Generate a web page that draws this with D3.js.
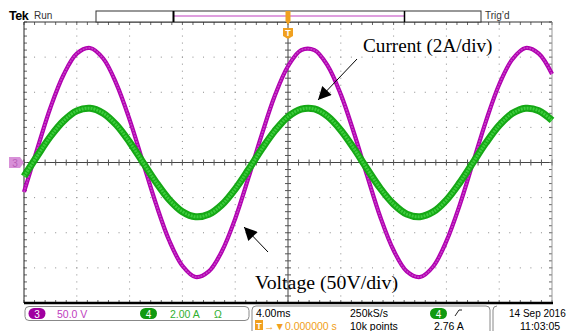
<!DOCTYPE html>
<html>
<head>
<meta charset="utf-8">
<script src="https://cdn.jsdelivr.net/npm/d3@7"></script>
<style>
  body { margin: 0; background: #fff; }
  svg { display: block; font-family: "Liberation Sans", Arial, sans-serif; }
</style>
</head>
<body>
<svg id="scope" width="569" height="331"></svg>
<script>
// time axis in ms, trigger at 0, 4 ms/div, 10 divisions
const timeMs = d3.range(-20, 20.5, 1);

// channel 3: voltage (V), 50 V/div
const voltage = [-42, 19, 78, 125, 155, 163, 148, 112, 61, 1, -59, -111, -147, -163, -155, -126, -80, -22,
  39, 95, 137, 160, 160, 138, 97, 42, -19, -78, -125, -155, -163, -148, -112, -61, -1, 59, 111, 147, 163, 155, 126];

// channel 4: current (A), 2 A/div
const current = [-0.79, 0.37, 1.48, 2.37, 2.94, 3.09, 2.81, 2.14, 1.16, 0.02, -1.12, -2.11, -2.80, -3.09, -2.95, -2.40, -1.51, -0.41,
  0.75, 1.80, 2.61, 3.04, 3.05, 2.63, 1.84, 0.79, -0.37, -1.48, -2.37, -2.94, -3.09, -2.81, -2.14, -1.16, -0.02, 1.12, 2.11, 2.80, 3.09, 2.95, 2.40];

// readouts
const ch3Label = "50.0 V";
const ch4Label = "2.00 A";
const timebase = "4.00ms";
const sampleRate = "250kS/s";
const recordLen = "10k points";
const trigLevel = "2.76 A";
const trigPos = "0.000000 s";
const dateText = "14 Sep  2016";
const timeText = "11:03:05";

const svg = d3.select("#scope");

const plot = { left: 24, right: 552, top: 22, bottom: 303 };
const x  = d3.scaleLinear().domain([-20, 20]).range([plot.left, plot.right]);
const yV = d3.scaleLinear().domain([-200, 200]).range([plot.bottom, plot.top]);
const yI = d3.scaleLinear().domain([-8, 8]).range([plot.bottom, plot.top]);

const xDiv = d3.range(-20, 20.01, 4);
const yDiv = d3.range(-200, 200.01, 50);
const xMinor = d3.range(-20, 20.01, 0.8);
const yMinor = d3.range(-200, 200.01, 10);

const cx = x(0), cy = yV(0);
const grid = svg.append("g").attr("class", "graticule");

// dotted grid
xMinor.forEach(t => {
  yDiv.slice(1, -1).forEach(v => {
    grid.append("rect").attr("x", x(t) - 0.5).attr("y", yV(v) - 0.5)
      .attr("width", 1).attr("height", 1).attr("fill", "#8a8a8a");
  });
});
yMinor.forEach(v => {
  xDiv.slice(1, -1).forEach(t => {
    if (t === 0) return;
    grid.append("rect").attr("x", x(t) - 0.5).attr("y", yV(v) - 0.5)
      .attr("width", 1).attr("height", 1).attr("fill", "#8a8a8a");
  });
});

// center cross
grid.append("line").attr("x1", plot.left).attr("x2", plot.right).attr("y1", cy).attr("y2", cy)
  .attr("stroke", "#444").attr("stroke-width", 1);
grid.append("line").attr("x1", cx).attr("x2", cx).attr("y1", plot.top).attr("y2", plot.bottom)
  .attr("stroke", "#444").attr("stroke-width", 1);

// ticks on center cross and borders
xMinor.forEach(t => {
  grid.append("line").attr("x1", x(t)).attr("x2", x(t)).attr("y1", cy - 3).attr("y2", cy + 3).attr("stroke", "#555");
  grid.append("line").attr("x1", x(t)).attr("x2", x(t)).attr("y1", plot.top).attr("y2", plot.top + 3).attr("stroke", "#666");
  grid.append("line").attr("x1", x(t)).attr("x2", x(t)).attr("y1", plot.bottom - 3).attr("y2", plot.bottom).attr("stroke", "#666");
});
yMinor.forEach(v => {
  grid.append("line").attr("x1", cx - 3).attr("x2", cx + 3).attr("y1", yV(v)).attr("y2", yV(v)).attr("stroke", "#555");
  grid.append("line").attr("x1", plot.left).attr("x2", plot.left + 3).attr("y1", yV(v)).attr("y2", yV(v)).attr("stroke", "#666");
  grid.append("line").attr("x1", plot.right - 3).attr("x2", plot.right).attr("y1", yV(v)).attr("y2", yV(v)).attr("stroke", "#666");
});

// frame
grid.append("line").attr("x1", plot.left).attr("x2", plot.right).attr("y1", plot.top).attr("y2", plot.top).attr("stroke", "#333");
grid.append("line").attr("x1", plot.left).attr("x2", plot.left).attr("y1", plot.top).attr("y2", plot.bottom).attr("stroke", "#222");
grid.append("line").attr("x1", plot.right).attr("x2", plot.right).attr("y1", plot.top).attr("y2", plot.bottom).attr("stroke", "#999");
grid.append("line").attr("x1", plot.left).attr("x2", plot.right + 1).attr("y1", plot.bottom).attr("y2", plot.bottom)
  .attr("stroke", "#000").attr("stroke-width", 2.5);

// traces
const lineV = d3.line().x((d, i) => x(timeMs[i])).y(d => yV(d)).curve(d3.curveCatmullRom);
const lineI = d3.line().x((d, i) => x(timeMs[i])).y(d => yI(d)).curve(d3.curveCatmullRom);

const traces = svg.append("g");
traces.append("path").attr("d", lineV(voltage)).attr("fill", "none")
  .attr("stroke", "#b000b0").attr("stroke-width", 4.2);
traces.append("path").attr("d", lineV(voltage)).attr("fill", "none")
  .attr("stroke", "#c840c8").attr("stroke-width", 1.6).attr("stroke-dasharray", "2 1");
traces.append("path").attr("d", lineI(current)).attr("fill", "none")
  .attr("stroke", "#15a815").attr("stroke-width", 7);
traces.append("path").attr("d", lineI(current)).attr("fill", "none")
  .attr("stroke", "#3ccc3c").attr("stroke-width", 3).attr("stroke-dasharray", "2 1");

// header
svg.append("text").attr("x", 9).attr("y", 20).attr("font-weight", "bold").attr("font-size", 12.5)
  .attr("letter-spacing", -0.5).text("Tek");
svg.append("text").attr("x", 34).attr("y", 19).attr("font-size", 10).attr("fill", "#333").text("Run");
svg.append("text").attr("x", 485).attr("y", 19).attr("font-size", 10).attr("fill", "#333").text("Trig\u2019d");

svg.append("rect").attr("x", 96).attr("y", 11).attr("width", 385).attr("height", 11)
  .attr("fill", "#fff").attr("stroke", "#333");
svg.append("line").attr("x1", 174).attr("x2", 404).attr("y1", 16).attr("y2", 16).attr("stroke", "#c040c0").attr("stroke-width", 1.2);
svg.append("line").attr("x1", 173.5).attr("x2", 173.5).attr("y1", 11).attr("y2", 22).attr("stroke", "#000").attr("stroke-width", 2);
svg.append("line").attr("x1", 404.5).attr("x2", 404.5).attr("y1", 11).attr("y2", 22).attr("stroke", "#000").attr("stroke-width", 1.5);

// trigger markers
const orange = "#f0a020";
svg.append("rect").attr("x", cx - 2.5).attr("y", 11).attr("width", 5).attr("height", 10).attr("fill", orange);
svg.append("path").attr("d", `M${cx - 2.5},21 L${cx + 2.5},21 L${cx},25 Z`).attr("fill", orange);
svg.append("path").attr("d", `M${cx - 5},28 L${cx + 5},28 L${cx + 5},36 L${cx},39 L${cx - 5},36 Z`).attr("fill", orange);
svg.append("text").attr("x", cx).attr("y", 36).attr("text-anchor", "middle").attr("font-size", 9)
  .attr("font-weight", "bold").attr("fill", "#fff").text("T");

// ch3 ground marker
svg.append("path").attr("d", `M9,157 L20,157 L24,${cy} L20,168 L9,168 Z`).attr("fill", "#d890d8");
svg.append("text").attr("x", 15).attr("y", 166.5).attr("text-anchor", "middle").attr("font-size", 10).attr("fill", "#b860b8").text("3");

// annotations
const serif = "'Liberation Serif', 'Times New Roman', serif";
svg.append("text").attr("x", 363).attr("y", 52).attr("font-family", serif).attr("font-size", 19.2).text("Current (2A/div)");
svg.append("text").attr("x", 255).attr("y", 289).attr("font-family", serif).attr("font-size", 19.8).text("Voltage (50V/div)");

svg.append("defs").append("marker").attr("id", "ah").attr("viewBox", "0 0 10 10")
  .attr("refX", 10).attr("refY", 5).attr("markerWidth", 17).attr("markerHeight", 13)
  .attr("markerUnits", "userSpaceOnUse").attr("orient", "auto")
  .append("path").attr("d", "M0,0 L10,5 L0,10 Z").attr("fill", "#000");
svg.append("line").attr("x1", 357).attr("y1", 59).attr("x2", 318).attr("y2", 100)
  .attr("stroke", "#000").attr("stroke-width", 1).attr("marker-end", "url(#ah)");
svg.append("line").attr("x1", 268).attr("y1", 252).attr("x2", 244).attr("y2", 227)
  .attr("stroke", "#000").attr("stroke-width", 1).attr("marker-end", "url(#ah)");

// bottom readouts
const bottom = svg.append("g").attr("font-size", 10.5);
function pill(px, py, color, label) {
  bottom.append("rect").attr("x", px).attr("y", py).attr("width", 17).attr("height", 11).attr("rx", 5.5).attr("fill", color);
  bottom.append("text").attr("x", px + 8.5).attr("y", py + 9.5).attr("text-anchor", "middle").attr("fill", "#fff")
    .attr("font-size", 10).text(label);
}
bottom.append("rect").attr("x", 25).attr("y", 306.5).attr("width", 224).attr("height", 14).attr("rx", 4)
  .attr("fill", "none").attr("stroke", "#888");
pill(28.5, 308, "#a000a0", "3");
bottom.append("text").attr("x", 57).attr("y", 317.5).attr("fill", "#c040c0").text(ch3Label);
pill(140, 308, "#109a10", "4");
bottom.append("text").attr("x", 170).attr("y", 317.5).attr("fill", "#30b030").text(ch4Label);
bottom.append("text").attr("x", 214).attr("y", 317.5).attr("fill", "#30b030").text("\u03A9");

bottom.append("path").attr("d", "M256,306 Q252,306 252,310 L252,331 M486,306 Q490,306 490,310 L490,331 M256,306 L486,306")
  .attr("fill", "none").attr("stroke", "#888");
bottom.append("path").attr("d", "M497,306 Q493,306 493,310 L493,331")
  .attr("fill", "none").attr("stroke", "#888");
bottom.append("text").attr("x", 256).attr("y", 317).text(timebase);
bottom.append("text").attr("x", 350).attr("y", 317).text(sampleRate);
pill(430, 308, "#109a10", "4");
bottom.append("path").attr("d", "M455,316 L459,310 L462,310").attr("fill", "none").attr("stroke", "#222");
bottom.append("rect").attr("x", 255).attr("y", 320).attr("width", 8).attr("height", 10).attr("fill", orange);
bottom.append("text").attr("x", 259).attr("y", 329).attr("text-anchor", "middle").attr("font-size", 9)
  .attr("font-weight", "bold").attr("fill", "#fff").text("T");
bottom.append("text").attr("x", 264).attr("y", 329.5).attr("fill", orange).text("\u2192\u25BC" + trigPos);
bottom.append("text").attr("x", 350).attr("y", 329.5).text(recordLen);
bottom.append("text").attr("x", 434).attr("y", 329.5).text(trigLevel);
bottom.append("text").attr("x", 509).attr("y", 317).attr("font-size", 10).text(dateText);
bottom.append("text").attr("x", 520).attr("y", 329.5).text(timeText);
</script>
</body>
</html>
